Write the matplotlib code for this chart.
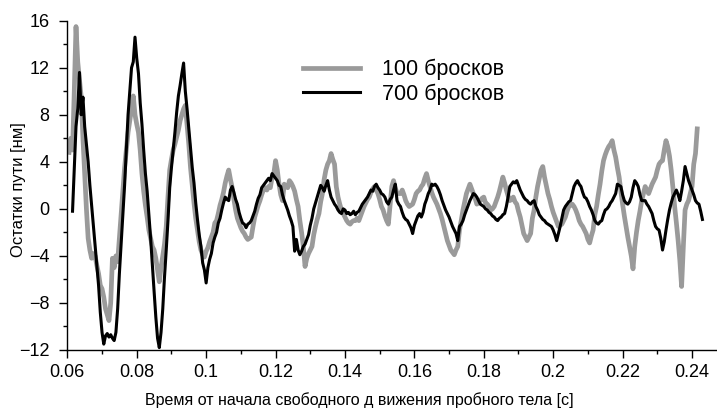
import numpy as np
import matplotlib
matplotlib.use("Agg")
import matplotlib.pyplot as plt
from matplotlib.ticker import MultipleLocator, FormatStrFormatter

plt.rcParams['font.family'] = ['Liberation Sans', 'DejaVu Sans']

# time grid, seconds (step 0.5 ms)
t = np.round(np.arange(0.0605, 0.24301, 0.0005), 4)

# residuals, nm -- 100 throws (grey)
res_100 = [
    4.8, 6.0, 5.0, 10.0, 15.5, 12.5, 11.0, 9.5, 6.0, 3.0,
    0.0, -2.5, -3.5, -4.2, -3.8, -4.0, -4.8, -5.5, -6.5, -6.8,
    -7.5, -8.5, -9.0, -9.5, -8.0, -4.2, -5.0, -4.0, -4.5, -2.5,
    -0.5, 1.5, 3.5, 5.0, 6.5, 7.5, 8.5, 9.6, 8.0, 7.2,
    6.5, 5.0, 3.0, 1.5, 0.3, -0.7, -1.8, -2.5, -3.2, -3.5,
    -4.2, -5.2, -6.2, -5.0, -4.0, -3.0, -1.5, 1.0, 3.3, 4.2,
    5.0, 5.5, 6.1, 6.7, 7.5, 8.0, 8.5, 8.8, 7.2, 5.5,
    3.5, 2.0, 0.5, -0.8, -1.8, -2.8, -3.5, -3.9, -4.1, -3.6,
    -3.3, -2.8, -2.4, -2.0, -1.2, -1.0, -0.4, 0.3, 0.8, 1.4,
    2.2, 2.8, 3.3, 2.5, 1.8, 0.8, -0.1, -0.8, -1.2, -1.6,
    -1.9, -2.1, -2.4, -2.6, -2.5, -2.4, -1.5, -0.7, -0.2, 0.3,
    0.7, 1.2, 1.6, 1.8, 1.6, 1.9, 1.8, 2.7, 3.0, 4.1,
    3.3, 2.1, 1.2, 0.7, 2.1, 1.9, 1.8, 2.4, 2.2, 1.9,
    1.5, 0.8, 0.2, -1.0, -2.0, -3.2, -4.9, -4.2, -3.8, -3.5,
    -3.2, -2.2, -1.5, -0.9, -0.4, 0.6, 1.3, 2.5, 3.3, 3.8,
    4.1, 4.7, 4.2, 3.8, 1.9, 1.0, 0.4, -0.1, -0.4, -0.7,
    -1.0, -1.2, -1.3, -1.1, -1.0, -1.0, -0.8, -1.0, -0.6, -0.2,
    0.2, 0.5, 0.8, 1.0, 1.4, 1.7, 1.9, 1.6, 1.3, 0.8,
    0.2, -0.1, -0.6, -1.0, -1.3, 0.3, 1.9, 2.4, 1.8, 1.3,
    1.3, 1.3, 1.6, 1.2, 0.7, 0.4, 0.2, 0.3, 0.4, 0.8,
    1.3, 1.5, 1.6, 1.9, 2.1, 2.6, 3.0, 2.4, 1.9, 1.4,
    1.0, 0.7, 0.4, 0.0, -0.4, -0.9, -1.5, -2.1, -2.7, -3.1,
    -3.5, -3.7, -3.9, -3.5, -3.2, -1.8, -1.0, -0.1, 0.6, 1.3,
    1.7, 2.1, 1.7, 1.3, 0.9, 0.4, 0.5, 0.7, 0.9, 1.0,
    0.5, 0.4, 0.2, -0.1, 0.0, 0.2, 0.6, 1.0, 1.5, 2.1,
    2.7, 2.2, 1.6, 1.1, 0.7, 0.8, 1.0, 0.6, 0.4, -0.2,
    -0.7, -1.4, -2.1, -2.4, -2.7, -2.4, -2.1, -0.8, -0.1, 1.0,
    1.9, 2.6, 3.3, 3.6, 2.7, 2.0, 1.3, 0.8, 0.2, -0.3,
    -0.7, -1.1, -1.5, -1.4, -1.3, -1.0, -0.7, -0.2, 0.2, 0.3,
    0.4, 0.2, -0.1, -0.5, -1.0, -1.3, -1.5, -1.8, -2.1, -2.6,
    -2.9, -2.3, -1.8, -0.5, 0.2, 1.2, 2.1, 3.2, 4.1, 4.6,
    5.0, 5.3, 5.5, 5.8, 5.0, 4.4, 3.5, 2.7, 1.5, 0.4,
    -0.6, -1.5, -2.4, -3.2, -4.0, -5.1, -3.2, -2.0, -1.0, -0.2,
    0.7, 1.3, 1.9, 1.6, 1.3, 1.7, 2.1, 2.4, 2.7, 3.3,
    3.8, 4.0, 4.1, 5.0, 5.8, 5.3, 4.5, 3.3, 1.8, 0.2,
    -1.2, -2.7, -4.4, -6.6, -3.2, -0.1, 0.4, 0.7, 1.3, 1.9,
    3.8, 4.7, 6.8, np.nan, np.nan, np.nan,
]

# residuals, nm -- 700 throws (black)
res_700 = [
    np.nan, np.nan, -0.2, 3.5, 7.0, 8.5, 11.6, 8.0, 9.5, 7.0,
    5.5, 4.0, 2.0, 0.3, -1.5, -3.0, -4.8, -6.5, -8.8, -10.5,
    -11.5, -10.8, -10.6, -10.9, -10.7, -11.0, -11.2, -10.5, -8.5, -5.5,
    -3.0, -0.5, 2.0, 5.0, 8.0, 10.0, 12.0, 12.5, 14.6, 12.8,
    11.5, 9.0, 7.2, 5.0, 3.0, 1.5, -0.5, -2.5, -4.8, -7.0,
    -9.2, -11.0, -11.8, -10.5, -8.5, -5.8, -3.5, -1.0, 1.8, 3.5,
    5.0, 6.5, 8.2, 9.6, 10.5, 11.5, 12.4, 10.0, 8.5, 6.8,
    5.0, 3.5, 2.2, 0.5, -0.9, -2.2, -3.2, -4.6, -5.2, -6.3,
    -5.0, -4.3, -3.8, -2.9, -2.4, -2.0, -1.2, -0.8, -0.1, 0.5,
    1.0, 0.8, 0.7, 1.6, 1.9, 1.4, 0.8, 0.4, -0.3, -0.8,
    -1.2, -1.3, -1.6, -1.3, -1.2, -1.0, -0.6, -0.2, 0.4, 0.9,
    1.2, 1.8, 2.0, 2.2, 2.4, 2.6, 2.4, 3.0, 2.8, 2.6,
    2.4, 2.0, 1.9, 1.2, 0.7, 0.3, -0.1, -0.6, -1.0, -1.5,
    -3.6, -2.6, -3.5, -3.9, -3.6, -3.2, -3.0, -2.6, -2.2, -1.4,
    -0.8, 0.0, 0.5, 1.0, 1.5, 2.0, 1.8, 1.5, 2.0, 2.4,
    1.6, 1.0, 0.7, 0.4, 0.2, -0.1, -0.3, -0.4, 0.0, -0.1,
    -0.4, -0.3, -0.5, -0.4, -0.2, -0.5, -0.3, -0.2, 0.1, 0.4,
    0.6, 0.8, 1.0, 1.3, 1.6, 1.5, 1.9, 2.1, 1.8, 1.6,
    1.3, 1.2, 1.0, 0.6, 0.4, 0.8, 1.0, 1.6, 2.1, 0.7,
    0.4, 0.2, -0.3, -0.7, -0.9, -1.0, -1.3, -1.6, -2.1, -1.4,
    -1.0, -0.6, -0.4, -0.7, -0.3, 0.4, 0.8, 1.3, 1.6, 2.1,
    2.0, 2.1, 1.9, 1.6, 1.2, 0.7, 0.3, -0.1, -0.4, -0.7,
    -1.1, -1.5, -1.8, -2.1, -2.7, -1.5, -1.3, -1.0, -0.5, -0.1,
    0.3, 0.7, 1.0, 1.3, 1.2, 1.0, 0.7, 0.4, 0.3, 0.2,
    0.0, -0.1, -0.3, -0.4, -0.6, -0.7, -0.9, -1.0, -0.8, -0.7,
    -0.5, -0.4, 0.2, 1.0, 1.9, 2.1, 2.3, 2.2, 2.4, 2.0,
    1.6, 1.3, 1.0, 0.8, 0.7, 0.5, 0.4, 0.6, 0.7, 0.2,
    -0.1, -0.5, -0.7, -0.9, -1.0, -1.2, -1.3, -1.4, -1.5, -1.8,
    -2.2, -2.7, -2.1, -1.5, -0.8, -0.1, 0.2, 0.4, 0.6, 0.7,
    1.3, 1.9, 2.2, 2.4, 2.1, 1.9, 1.4, 1.0, 0.9, 0.6,
    0.2, -0.1, -0.5, -1.0, -1.2, -1.3, -1.1, -1.0, -0.5, -0.1,
    0.0, 0.2, 0.5, 0.7, 1.0, 1.3, 2.1, 2.0, 1.9, 1.2,
    0.7, 0.5, 0.4, 0.6, 1.0, 1.8, 2.4, 2.2, 1.9, 1.2,
    0.7, 0.7, 0.7, 0.4, 0.2, -0.1, -0.4, -1.0, -1.5, -1.7,
    -1.8, -2.5, -3.5, -2.8, -1.8, -0.9, -0.1, 0.5, 1.0, 1.3,
    1.6, 1.2, 0.7, 1.5, 2.4, 3.6, 3.0, 2.4, 2.0, 1.6,
    1.2, 0.7, 0.5, 0.4, -0.2, -0.9,
]

fig = plt.figure(figsize=(7.17, 4.12), dpi=100)
ax = fig.add_axes([0.0939, 0.1505, 0.9061, 0.7993])

ax.plot(t, res_100, color='#9a9a9a', lw=3.4, label='100 бросков')
ax.plot(t, res_700, color='black', lw=2.2, label='700 бросков')

ax.set_xlim(0.06, 0.2472)
ax.set_ylim(-12, 16)
ax.xaxis.set_major_locator(MultipleLocator(0.02))
ax.xaxis.set_minor_locator(MultipleLocator(0.01))
ax.xaxis.set_major_formatter(FormatStrFormatter('%g'))
ax.yaxis.set_major_locator(MultipleLocator(4))
ax.yaxis.set_minor_locator(MultipleLocator(2))
ax.tick_params(which='both', direction='out', width=1.0, labelsize=13, pad=4)
ax.tick_params(axis='y', which='both', pad=7)
ax.tick_params(which='major', length=6)
ax.tick_params(which='minor', length=3)
for side in ['top', 'right']:
    ax.spines[side].set_visible(False)
for side in ['left', 'bottom']:
    ax.spines[side].set_linewidth(1.0)

ax.set_xlabel('Время от начала свободного д вижения пробного тела [с]', fontsize=11.5)
ax.xaxis.set_label_coords(0.449, -0.128)
ax.set_ylabel('Остатки пути [нм]', fontsize=12)
ax.yaxis.set_label_coords(-0.064, 0.486)

ax.legend(loc='upper left', bbox_to_anchor=(0.4226, 0.857), bbox_transform=fig.transFigure,
          frameon=False, fontsize=15.5, handlelength=2.65, handletextpad=1.0,
          labelspacing=0.15, borderpad=0, borderaxespad=0)

fig.savefig('out.png', dpi=100)
